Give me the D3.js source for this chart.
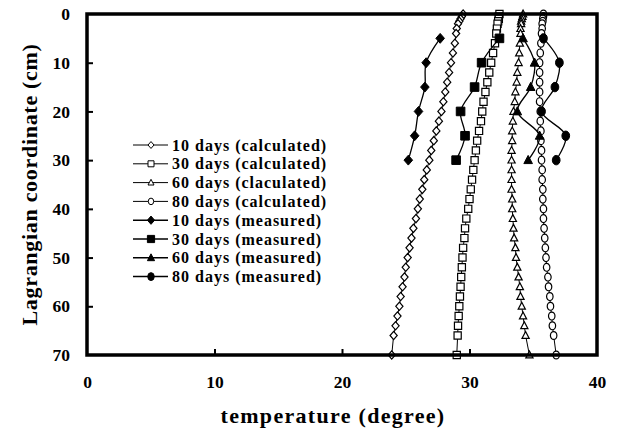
<!DOCTYPE html>
<html>
<head>
<meta charset="utf-8">
<script src="https://cdn.jsdelivr.net/npm/d3@7"></script>
<style>
  body { margin: 0; background: #fff; }
  text { font-family: "Liberation Serif", "Times New Roman", serif; font-weight: bold; fill: #000; }
</style>
</head>
<body>
<div id="graph-container"></div>
<script>
const WIDTH = 617,
    HEIGHT = 430;

const margin = { top: 14, left: 87, right: 20, bottom: 75 };
const width = WIDTH - margin.left - margin.right,
    height = HEIGHT - margin.top - margin.bottom;

// depth (Lagrangian coordinate, cm) of calculated nodes
const calcDepth = [0, 0.5, 1, 1.5, 2, 3, 4, 6, 8, 10, 12, 14, 16, 18, 20, 22, 24, 26, 28, 30,
    32, 34, 36, 38, 40, 42, 44, 46, 48, 50, 52, 54, 56, 58, 60, 62, 64, 66, 70];

const calc10 = [29.5, 29.4, 29.3, 29.2, 29.1, 29.0, 28.95, 28.85, 28.7, 28.55, 28.4, 28.25, 28.1, 27.95, 27.8,
    27.6, 27.4, 27.2, 27.0, 26.85, 26.65, 26.45, 26.3, 26.1, 25.95, 25.8, 25.6, 25.45, 25.3, 25.15,
    25.0, 24.9, 24.75, 24.6, 24.5, 24.35, 24.2, 24.05, 23.9];
const calc30 = [32.35, 32.3, 32.3, 32.25, 32.2, 32.15, 32.1, 32.0, 31.85, 31.7, 31.55, 31.4, 31.25, 31.1, 31.0,
    30.9, 30.75, 30.6, 30.5, 30.4, 30.3, 30.2, 30.1, 30.0, 29.9, 29.75, 29.65, 29.6, 29.5, 29.45,
    29.4, 29.35, 29.3, 29.25, 29.2, 29.15, 29.1, 29.07, 29.0];
const calc60 = [34.2, 34.15, 34.1, 34.05, 34.05, 34.0, 34.0, 33.95, 33.9, 33.85, 33.75, 33.7, 33.6, 33.55, 33.45,
    33.4, 33.35, 33.35, 33.3, 33.3, 33.3, 33.3, 33.3, 33.35, 33.35, 33.4, 33.45, 33.5, 33.6, 33.65,
    33.75, 33.85, 33.95, 34.0, 34.1, 34.2, 34.3, 34.4, 34.7];
const calc80 = [35.8, 35.8, 35.75, 35.75, 35.7, 35.7, 35.65, 35.6, 35.55, 35.5, 35.5, 35.5, 35.5, 35.5, 35.55,
    35.55, 35.6, 35.6, 35.65, 35.65, 35.7, 35.7, 35.75, 35.75, 35.8, 35.8, 35.85, 35.9, 35.95, 36.0,
    36.05, 36.15, 36.2, 36.3, 36.35, 36.45, 36.5, 36.6, 36.8];

const measDepth = [5, 10, 15, 20, 25, 30];
const meas10 = [27.7, 26.6, 26.5, 26.0, 25.7, 25.2];
const meas30 = [32.35, 30.95, 30.4, 29.3, 29.65, 28.95];
const meas60 = [34.2, 35.1, 34.8, 33.75, 35.5, 34.6];
const meas80 = [35.8, 37.05, 36.7, 35.65, 37.55, 36.8];

const xTicks = [0, 10, 20, 30, 40];
const yTicks = [0, 10, 20, 30, 40, 50, 60, 70];

const legendLabels = ["10 days (calculated)", "30 days (calculated)", "60 days (claculated)", "80 days (calculated)",
    "10 days (measured)", "30 days (measured)", "60 days (measured)", "80 days (measured)"];

const series = [
    { depth: calcDepth, temp: calc10, shape: "diamond", filled: false, calc: true },
    { depth: calcDepth, temp: calc30, shape: "square", filled: false, calc: true },
    { depth: calcDepth, temp: calc60, shape: "triangle", filled: false, calc: true },
    { depth: calcDepth, temp: calc80, shape: "circle", filled: false, calc: true },
    { depth: measDepth, temp: meas10, shape: "diamond", filled: true, calc: false },
    { depth: measDepth, temp: meas30, shape: "square", filled: true, calc: false },
    { depth: measDepth, temp: meas60, shape: "triangle", filled: true, calc: false },
    { depth: measDepth, temp: meas80, shape: "circle", filled: true, calc: false }
];

const svg = d3.select("#graph-container")
    .append("svg")
    .attr("width", WIDTH)
    .attr("height", HEIGHT);

const g = svg.append("g")
    .attr("transform", `translate(${margin.left}, ${margin.top})`);

const escalaX = d3.scaleLinear().domain([0, 40]).range([0, width]);
const escalaY = d3.scaleLinear().domain([0, 70]).range([0, height]);

// marker paths, s = half size
function markerPath(shape, s) {
    if (shape === "diamond") return `M0,${-s * 1.15}L${s},0L0,${s * 1.15}L${-s},0Z`;
    if (shape === "square") return `M${-s},${-s}H${s}V${s}H${-s}Z`;
    if (shape === "triangle") return `M0,${-s * 1.1}L${s},${s * 0.8}L${-s},${s * 0.8}Z`;
    return `M${-s * 0.9},0A${s * 0.9},${s * 1.1} 0 1,0 ${s * 0.9},0A${s * 0.9},${s * 1.1} 0 1,0 ${-s * 0.9},0Z`;
}

// axes
const xAxis = g.append("g")
    .attr("transform", `translate(0, ${height})`)
    .call(d3.axisBottom(escalaX).tickValues(xTicks).tickSize(-6).tickPadding(21));
const yAxis = g.append("g")
    .call(d3.axisLeft(escalaY).tickValues(yTicks).tickSize(-6).tickPadding(17));

[xAxis, yAxis].forEach(a => {
    a.select(".domain").remove();
    a.selectAll("line").attr("stroke", "#000").attr("stroke-width", 2);
    a.selectAll("text").style("font-size", "17.5px");
});
xAxis.selectAll(".tick line").filter(d => d === 0 || d === 40).remove();
yAxis.selectAll(".tick line").filter(d => d === 0 || d === 70).remove();

// data
const line = d3.line()
    .x(d => escalaX(d[0]))
    .y(d => escalaY(d[1]));
const smooth = d3.line()
    .curve(d3.curveCatmullRom)
    .x(d => escalaX(d[0]))
    .y(d => escalaY(d[1]));

series.forEach(s => {
    const pts = s.temp.map((t, i) => [t, s.depth[i]]);
    g.append("path")
        .attr("d", s.calc ? line(pts) : smooth(pts))
        .attr("fill", "none")
        .attr("stroke", "#000")
        .attr("stroke-width", s.calc ? 1 : 1.3);
    g.selectAll(null)
        .data(pts)
        .join("path")
        .attr("transform", d => `translate(${escalaX(d[0])}, ${escalaY(d[1])})`)
        .attr("d", markerPath(s.shape, s.filled ? 4.3 : 3.6))
        .attr("fill", s.filled ? "#000" : "#fff")
        .attr("stroke", "#000")
        .attr("stroke-width", s.filled ? 1 : 1.2);
});

// frame
g.append("rect")
    .attr("width", width)
    .attr("height", height)
    .attr("fill", "none")
    .attr("stroke", "#000")
    .attr("stroke-width", 3.5);

// legend
const legend = g.append("g")
    .attr("transform", `translate(${133 - margin.left}, ${145 - margin.top})`);
legendLabels.forEach((lab, i) => {
    const s = series[i];
    const row = legend.append("g").attr("transform", `translate(0, ${i * 18.8})`);
    row.append("line")
        .attr("x1", 0).attr("x2", 35)
        .attr("stroke", "#000")
        .attr("stroke-width", s.calc ? 1 : 1.5);
    row.append("path")
        .attr("transform", "translate(18, 0)")
        .attr("d", markerPath(s.shape, s.filled ? 3.6 : 3))
        .attr("fill", s.filled ? "#000" : "#fff")
        .attr("stroke", "#000")
        .attr("stroke-width", 1);
    row.append("text")
        .attr("x", 39)
        .attr("dy", "0.35em")
        .style("font-size", "16px")
        .style("letter-spacing", "1px")
        .text(lab);
});

// titles
svg.append("text")
    .attr("transform", `translate(37, ${margin.top + height / 2}) rotate(-90)`)
    .attr("text-anchor", "middle")
    .style("font-size", "22px")
    .style("letter-spacing", "0.7px")
    .text("Lagrangian coordinate (cm)");

svg.append("text")
    .attr("x", 333)
    .attr("y", 423)
    .attr("text-anchor", "middle")
    .style("font-size", "22px")
    .style("letter-spacing", "1.3px")
    .text("temperature (degree)");
</script>
</body>
</html>
